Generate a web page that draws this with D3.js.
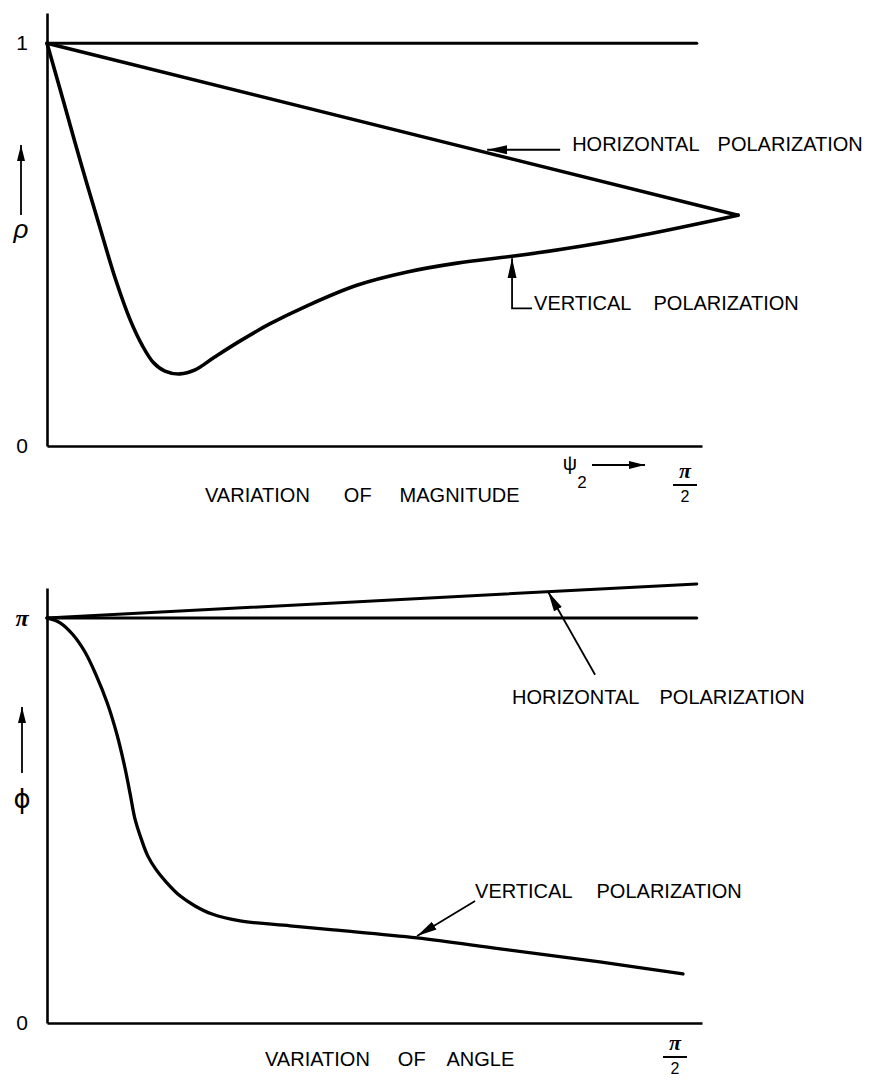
<!DOCTYPE html>
<html lang="en">
<head>
<meta charset="UTF-8">
<title>Reflection coefficient - magnitude and angle</title>
<script src="https://d3js.org/d3.v7.min.js"></script>
<style>
  body { margin: 0; background: #fff; }
  svg { display: block; }
  text { font-family: "Liberation Sans", Arial, sans-serif; fill: #000; }
  .curve { fill: none; stroke: #000; stroke-linejoin: round; stroke-linecap: round; }
  .lead { fill: none; stroke: #000; stroke-width: 1.8; }
</style>
</head>
<body>
<div id="chart"></div>
<script>
// x is psi_2 as a fraction of pi/2, rho is magnitude, phi is in units of pi
const magHoriz = [[0, 1.0], [1.055, 0.573]];
const magUnity = [[0, 1.0], [0.992, 1.0]];
const magVert = [
  [0, 1.0], [0.026, 0.851], [0.053, 0.695], [0.081, 0.541], [0.105, 0.412],
  [0.127, 0.313], [0.145, 0.251], [0.162, 0.208], [0.180, 0.186], [0.203, 0.179],
  [0.226, 0.189], [0.256, 0.221], [0.295, 0.261], [0.340, 0.303], [0.397, 0.348],
  [0.473, 0.399], [0.550, 0.432], [0.626, 0.454], [0.710, 0.471], [0.788, 0.489],
  [0.895, 0.519], [1.055, 0.573]
];

const angHoriz = [[0, 1.0], [0.992, 1.084]];
const angRef = [[0, 1.0], [0.992, 1.0]];
const angVert = [
  [0, 1.0], [0.020, 0.988], [0.040, 0.958], [0.058, 0.916], [0.075, 0.859],
  [0.092, 0.790], [0.107, 0.711], [0.119, 0.630], [0.127, 0.565], [0.134, 0.506],
  [0.144, 0.454], [0.154, 0.412], [0.166, 0.380], [0.182, 0.348], [0.203, 0.314],
  [0.226, 0.289], [0.252, 0.269], [0.295, 0.252], [0.371, 0.240], [0.437, 0.230],
  [0.565, 0.210], [0.692, 0.183], [0.844, 0.151], [0.971, 0.121]
];

const magTicks = [0, 1];
const magTickLabels = ["0", "1"];
const angTicks = [0, 1];
const angTickLabels = ["0", "\u03c0"];

const width = 882, height = 1080;

const svg = d3.select("#chart").append("svg")
  .attr("width", width)
  .attr("height", height);

const defs = svg.append("defs");
defs.append("marker")
  .attr("id", "head")
  .attr("viewBox", "0 -5 20 10")
  .attr("refX", 20).attr("refY", 0)
  .attr("markerWidth", 20).attr("markerHeight", 10)
  .attr("markerUnits", "userSpaceOnUse")
  .attr("orient", "auto")
  .append("path").attr("d", "M0,-4.5L20,0L0,4.5Z").attr("fill", "#000");
defs.append("marker")
  .attr("id", "headSmall")
  .attr("viewBox", "0 -5 16 10")
  .attr("refX", 16).attr("refY", 0)
  .attr("markerWidth", 16).attr("markerHeight", 10)
  .attr("markerUnits", "userSpaceOnUse")
  .attr("orient", "auto")
  .append("path").attr("d", "M0,-4L16,0L0,4Z").attr("fill", "#000");

const x = d3.scaleLinear().domain([0, 1]).range([47, 702]);
const yMag = d3.scaleLinear().domain([0, 1.075]).range([446, 13]);
const yAng = d3.scaleLinear().domain([0, 1.074]).range([1023, 588]);

// linear lookup of a series at a given x
function at(series, xv) {
  for (let i = 1; i < series.length; i++) {
    const [x0, y0] = series[i - 1], [x1, y1] = series[i];
    if (xv <= x1) return y0 + (y1 - y0) * (xv - x0) / (x1 - x0);
  }
  return series[series.length - 1][1];
}

function drawAxes(y, ticks, labels) {
  const xg = svg.append("g")
    .attr("transform", `translate(0,${y(0)})`)
    .call(d3.axisBottom(x).tickValues([]).tickSizeOuter(0));
  const yg = svg.append("g")
    .attr("transform", `translate(${x(0)},0)`)
    .call(d3.axisLeft(y).tickValues(ticks).tickSizeOuter(0).tickSize(0)
      .tickFormat((d, i) => labels[i]));
  [xg, yg].forEach(g => g.select(".domain").attr("stroke-width", 2.6));
  yg.selectAll("text")
    .attr("x", -25)
    .attr("text-anchor", "middle")
    .style("font-size", "21px")
    .style("font-family", "\"Liberation Sans\", Arial, sans-serif");
  return yg;
}

function drawCurve(data, y, w) {
  const line = d3.line().x(d => x(d[0])).y(d => y(d[1])).curve(d3.curveCatmullRom.alpha(0.5));
  svg.append("path").attr("class", "curve").attr("d", line(data)).attr("stroke-width", w);
}

function words(px, py, list, gaps, size) {
  const t = svg.append("text").attr("x", px).attr("y", py).style("font-size", size + "px");
  list.forEach((w, i) => t.append("tspan").attr("dx", i ? gaps[i - 1] : 0).text(w));
  return t;
}

function axisArrow(px, y0, y1, sym, symY, italic, font) {
  svg.append("line").attr("class", "lead")
    .attr("x1", px).attr("y1", y1).attr("x2", px).attr("y2", y0)
    .attr("stroke-width", 2)
    .attr("marker-end", "url(#headSmall)");
  svg.append("text").attr("x", px).attr("y", symY)
    .attr("text-anchor", "middle")
    .style("font-size", "26px")
    .style("font-family", font)
    .style("font-style", italic ? "italic" : "normal")
    .text(sym);
}

function halfPi(cx, piY) {
  svg.append("text").attr("x", cx).attr("y", piY)
    .attr("text-anchor", "middle")
    .style("font-family", "\"Liberation Serif\", serif")
    .style("font-style", "italic").style("font-weight", "bold")
    .style("font-size", "22px").text("\u03c0");
  svg.append("line").attr("x1", cx - 12).attr("x2", cx + 12)
    .attr("y1", piY + 7).attr("y2", piY + 7)
    .attr("stroke", "#000").attr("stroke-width", 2);
  svg.append("text").attr("x", cx).attr("y", piY + 24)
    .attr("text-anchor", "middle").style("font-size", "16px").text("2");
}

// ---------- magnitude panel ----------
drawAxes(yMag, magTicks, magTickLabels);
drawCurve(magUnity, yMag, 3);
drawCurve(magHoriz, yMag, 3.5);
drawCurve(magVert, yMag, 3.6);

axisArrow(21, 145, 215, "\u03c1", 238, true, "\"Liberation Sans\", sans-serif");

{
  const tx = x(0.672), ty = yMag(at(magHoriz, 0.672)) - 3;
  svg.append("line").attr("class", "lead")
    .attr("x1", tx + 73).attr("y1", ty).attr("x2", tx).attr("y2", ty)
    .attr("marker-end", "url(#head)");
  words(tx + 85, ty + 1, ["HORIZONTAL", "POLARIZATION"], [18], 20);
}
{
  const tx = x(0.710), ty = yMag(at(magVert, 0.710)) + 2;
  svg.append("path").attr("class", "lead")
    .attr("d", `M${tx + 20},${ty + 50}H${tx}V${ty}`)
    .attr("marker-end", "url(#head)");
  words(tx + 22, ty + 52, ["VERTICAL", "POLARIZATION"], [22], 20);
}

words(x(0) + 158, yMag(0) + 56, ["VARIATION", "OF", "MAGNITUDE"], [34, 28], 20);

// psi_2 arrow
svg.append("text").attr("x", x(1) - 132).attr("y", yMag(0) + 24)
  .attr("text-anchor", "middle").style("font-size", "20px").text("\u03c8");
svg.append("text").attr("x", x(1) - 120).attr("y", yMag(0) + 42)
  .attr("text-anchor", "middle").style("font-size", "17px").text("2");
svg.append("line").attr("class", "lead")
  .attr("x1", x(1) - 110).attr("y1", yMag(0) + 19)
  .attr("x2", x(1) - 57).attr("y2", yMag(0) + 19)
  .attr("stroke-width", 2)
  .attr("marker-end", "url(#headSmall)");
halfPi(x(1) - 17, yMag(0) + 32);

// ---------- angle panel ----------
drawAxes(yAng, angTicks, angTickLabels)
  .selectAll("text").filter((d, i) => i === 1)
  .style("font-family", "\"Liberation Serif\", serif")
  .style("font-style", "italic").style("font-weight", "bold")
  .style("font-size", "24px");
drawCurve(angRef, yAng, 3);
drawCurve(angHoriz, yAng, 3);
drawCurve(angVert, yAng, 3.3);

axisArrow(22, 707, 773, "\u03d5", 808, false, "\"DejaVu Sans\", sans-serif");

{
  const tx = x(0.765), ty = yAng(at(angHoriz, 0.765));
  svg.append("line").attr("class", "lead")
    .attr("x1", tx + 47).attr("y1", ty + 83).attr("x2", tx).attr("y2", ty)
    .attr("stroke-width", 1.6)
    .attr("marker-end", "url(#head)");
  words(tx - 36, ty + 112, ["HORIZONTAL", "POLARIZATION"], [20], 20);
}
{
  const tx = x(0.565), ty = yAng(at(angVert, 0.565)) - 2;
  svg.append("line").attr("class", "lead")
    .attr("x1", tx + 58).attr("y1", ty - 35).attr("x2", tx).attr("y2", ty)
    .attr("stroke-width", 1.6)
    .attr("marker-end", "url(#head)");
  words(tx + 58, ty - 38, ["VERTICAL", "POLARIZATION"], [24], 20);
}

words(x(0) + 218, yAng(0) + 43, ["VARIATION", "OF", "ANGLE"], [28, 22], 20);
halfPi(x(1) - 27, yAng(0) + 27);
</script>
</body>
</html>
